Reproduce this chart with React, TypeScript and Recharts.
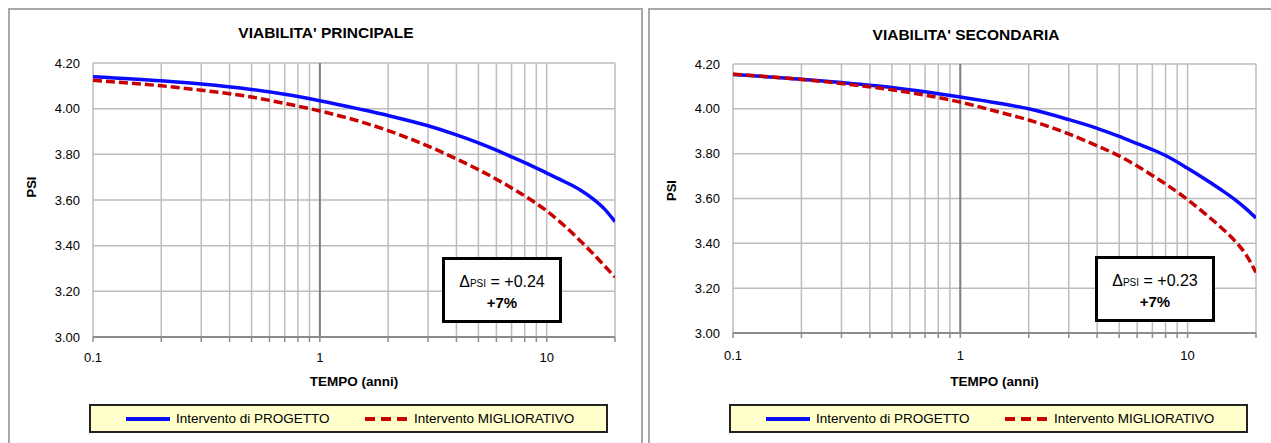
import { CartesianGrid, Label, Line, LineChart, ReferenceLine, XAxis, YAxis } from 'recharts'

// years on the log axis
const TIME = [0.1, 0.2, 0.3, 0.5, 0.7, 1, 1.5, 2, 3, 4, 5, 6, 7, 8, 10, 12, 14, 16, 18, 20]

const PRINC_PROGETTO = [4.14, 4.122, 4.108, 4.084, 4.063, 4.035, 3.998, 3.97, 3.925, 3.885, 3.85, 3.818, 3.789, 3.764, 3.718, 3.68, 3.645, 3.605, 3.56, 3.505]
const PRINC_MIGLIOR = [4.124, 4.1, 4.081, 4.051, 4.023, 3.99, 3.944, 3.904, 3.836, 3.78, 3.733, 3.691, 3.653, 3.618, 3.552, 3.486, 3.423, 3.365, 3.311, 3.262]
const SEC_PROGETTO = [4.153, 4.132, 4.117, 4.095, 4.076, 4.053, 4.024, 4.0, 3.952, 3.913, 3.877, 3.845, 3.818, 3.792, 3.735, 3.685, 3.64, 3.598, 3.556, 3.513]
const SEC_MIGLIOR = [4.155, 4.131, 4.113, 4.085, 4.061, 4.03, 3.984, 3.95, 3.888, 3.835, 3.79, 3.745, 3.703, 3.665, 3.595, 3.53, 3.472, 3.415, 3.352, 3.27]

const X_TICKS = [0.1, 0.2, 0.3, 0.4, 0.5, 0.6, 0.7, 0.8, 0.9, 1, 2, 3, 4, 5, 6, 7, 8, 9, 10, 20]
const X_LABELS = [0.1, 1, 10]
const Y_TICKS = [3, 3.2, 3.4, 3.6, 3.8, 4, 4.2]

const FONT = "'Liberation Sans', Arial, sans-serif"
const BLUE = '#0a0aff'
const RED = '#c80000'

function buildRows(progetto: number[], migliorativo: number[]) {
  return TIME.map((t, i) => ({ t, progetto: progetto[i], migliorativo: migliorativo[i] }))
}

function LegendBox({ left, top }: { left: number; top: number }) {
  return (
    <div
      style={{
        position: 'absolute',
        left,
        top,
        width: 519,
        height: 29,
        boxSizing: 'border-box',
        border: '2px solid #222',
        background: '#ffffcc',
        fontFamily: FONT,
        fontSize: 13.5,
        color: '#000',
      }}
    >
      <svg style={{ position: 'absolute', left: 35, top: 10 }} width={46} height={6}>
        <line x1={0} y1={3} x2={44} y2={3} stroke={BLUE} strokeWidth={4} />
      </svg>
      <span style={{ position: 'absolute', left: 85, top: 5 }}>Intervento di PROGETTO</span>
      <svg style={{ position: 'absolute', left: 274, top: 10 }} width={44} height={6}>
        <line x1={0} y1={3} x2={42} y2={3} stroke={RED} strokeWidth={4} strokeDasharray="10 6" />
      </svg>
      <span style={{ position: 'absolute', left: 323, top: 5 }}>Intervento MIGLIORATIVO</span>
    </div>
  )
}

function DeltaBox({ left, top, delta, pct }: { left: number; top: number; delta: string; pct: string }) {
  return (
    <div
      style={{
        position: 'absolute',
        left,
        top,
        width: 120,
        height: 66,
        boxSizing: 'border-box',
        border: '3px solid #000',
        background: '#fff',
        fontFamily: FONT,
        color: '#000',
        textAlign: 'center',
        paddingTop: 12,
        lineHeight: '19px',
      }}
    >
      <div style={{ fontSize: 16 }}>
        Δ<span style={{ fontSize: 10 }}>PSI</span> = {delta}
      </div>
      <div style={{ fontSize: 15, fontWeight: 'bold' }}>{pct}</div>
    </div>
  )
}

interface PanelProps {
  title: string
  progetto: number[]
  migliorativo: number[]
  chartLeft: number
  chartWidth: number
  margin: { top: number; right: number; bottom: number; left: number }
  tickMargin: number
  titleX: number
  titleY: number
  psiShift: number
  xLabelBaseline: number
}

function Panel(p: PanelProps) {
  const data = buildRows(p.progetto, p.migliorativo)
  return (
    <>
      <div
        style={{
          position: 'absolute',
          left: p.titleX - 150,
          top: p.titleY - 10,
          width: 300,
          textAlign: 'center',
          fontFamily: FONT,
          fontWeight: 'bold',
          fontSize: 15.5,
          lineHeight: '20px',
          color: '#000',
        }}
      >
        {p.title}
      </div>
      <div style={{ position: 'absolute', left: p.chartLeft, top: 0 }}>
        <LineChart width={p.chartWidth} height={443} data={data} margin={p.margin}>
          <CartesianGrid stroke="#bdbdbd" strokeWidth={1.5} />
          <XAxis
            dataKey="t"
            type="number"
            scale="log"
            domain={[0.1, 20]}
            allowDataOverflow
            ticks={X_TICKS}
            interval={0}
            height={30}
            tickFormatter={(v: number) => (X_LABELS.includes(v) ? String(v) : '')}
            tick={{ fill: '#000', fontSize: 13, fontFamily: FONT }}
            tickSize={5}
            tickMargin={p.tickMargin}
            axisLine={{ stroke: '#8c8c8c', strokeWidth: 2 }}
            tickLine={{ stroke: '#8c8c8c', strokeWidth: 1.5 }}
          >
            <Label
              content={({ viewBox }: any) => (
                <text
                  x={viewBox.x + viewBox.width / 2}
                  y={p.xLabelBaseline}
                  textAnchor="middle"
                  fontFamily={FONT}
                  fontWeight="bold"
                  fontSize={13.5}
                  fill="#000"
                >
                  TEMPO (anni)
                </text>
              )}
            />
          </XAxis>
          <YAxis
            type="number"
            domain={[3, 4.2]}
            ticks={Y_TICKS}
            width={60}
            axisLine={false}
            tickLine={false}
            tickSize={6}
            tickMargin={7}
            tickFormatter={(v: number) => v.toFixed(2)}
            tick={{ fill: '#000', fontSize: 13, fontFamily: FONT }}
          >
            <Label
              content={({ viewBox }: any) => {
                const x = viewBox.x - 2
                const y = viewBox.y + viewBox.height / 2 + p.psiShift
                return (
                  <text
                    x={x}
                    y={y}
                    transform={`rotate(-90 ${x} ${y})`}
                    textAnchor="middle"
                    dominantBaseline="central"
                    fontFamily={FONT}
                    fontWeight="bold"
                    fontSize={13}
                    fill="#000"
                  >
                    PSI
                  </text>
                )
              }}
            />
          </YAxis>
          <ReferenceLine x={1} stroke="#808080" strokeWidth={2} />
          <Line
            dataKey="progetto"
            type="monotone"
            stroke={BLUE}
            strokeWidth={3.5}
            dot={false}
            isAnimationActive={false}
          />
          <Line
            dataKey="migliorativo"
            type="monotone"
            stroke={RED}
            strokeWidth={3.5}
            strokeDasharray="9 4"
            dot={false}
            isAnimationActive={false}
          />
        </LineChart>
      </div>
    </>
  )
}

export default function App() {
  return (
    <div
      style={{
        position: 'absolute',
        left: 0,
        top: 0,
        width: 1271,
        height: 443,
        overflow: 'hidden',
        background: '#fff',
      }}
    >
      <div
        style={{
          position: 'absolute',
          left: 8,
          top: 8,
          width: 635,
          height: 520,
          boxSizing: 'border-box',
          border: '2px solid #a8a8a8',
        }}
      />
      <div
        style={{
          position: 'absolute',
          left: 648,
          top: 8,
          width: 700,
          height: 520,
          boxSizing: 'border-box',
          border: '2px solid #a8a8a8',
        }}
      />
      <Panel
        title="VIABILITA' PRINCIPALE"
        progetto={PRINC_PROGETTO}
        migliorativo={PRINC_MIGLIOR}
        chartLeft={0}
        chartWidth={642}
        margin={{ top: 63, right: 27, bottom: 76, left: 33 }}
        tickMargin={11}
        titleX={326}
        titleY={33}
        psiShift={-13}
        xLabelBaseline={386}
      />
      <Panel
        title="VIABILITA' SECONDARIA"
        progetto={SEC_PROGETTO}
        migliorativo={SEC_MIGLIOR}
        chartLeft={645}
        chartWidth={626}
        margin={{ top: 64, right: 15, bottom: 80, left: 28 }}
        tickMargin={13}
        titleX={966}
        titleY={35}
        psiShift={-8}
        xLabelBaseline={386}
      />
      <DeltaBox left={442} top={257} delta="+0.24" pct="+7%" />
      <DeltaBox left={1095} top={256} delta="+0.23" pct="+7%" />
      <LegendBox left={89} top={404} />
      <LegendBox left={729} top={404} />
    </div>
  )
}
